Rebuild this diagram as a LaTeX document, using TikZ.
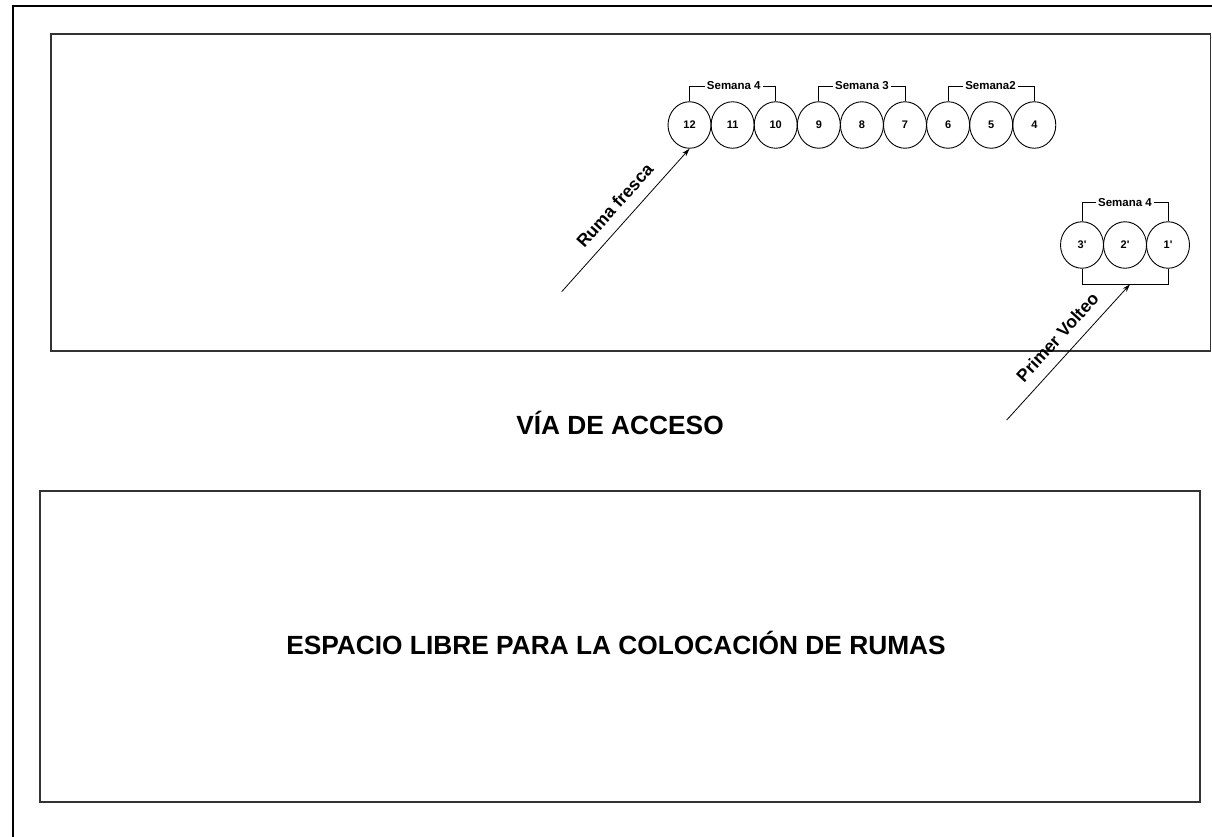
\documentclass[tikz,border=0pt]{standalone}
\usepackage{fontspec}
\setmainfont{Liberation Sans}
\usetikzlibrary{arrows.meta, positioning, calc, shapes.geometric}

\tikzset{
  ruma/.style={draw, ellipse, line width=0.9pt, minimum width=43pt, minimum height=46.5pt, inner sep=0pt, font=\fontsize{11}{12}\selectfont\bfseries},
  semana/.style={inner sep=2pt, font=\fontsize{11.5}{12}\selectfont\bfseries},
  zona/.style={draw=black!80, line width=1.3pt},
  rotulo/.style={font=\fontsize{26.3}{28}\selectfont\bfseries},
  flecha/.style={-{Stealth[length=8pt,width=5pt]}, line width=0.8pt},
  nota/.style={sloped, above=8pt, font=\fontsize{17.5}{18}\selectfont\bfseries}
}

\begin{document}
\begin{tikzpicture}[x=1pt, y=-1pt]
            \useasboundingbox (0,0) rectangle (1212,836);
            % frame
            \draw[line width=2.6pt] (13,850) |- (1230,6);
            \draw[zona] (51,34) rectangle (1210.5,351);
            \draw[zona] (40,491) rectangle (1200,802);

            % rumas en fila
            \foreach \n [count=\i from 0] in {12,11,10,9,8,7,6,5,4} {
                \node[ruma] (c\n) at (689.5+43.1*\i,125) {\n};
            }
            \node[semana] (w4) at (733.8,86) {Semana 4};
            \node[semana] (w3) at (862,86) {Semana 3};
            \node[semana] (w2) at (990.5,86) {Semana2};
            \draw[line width=0.9pt] (c12.north) |- (w4.west) (w4.east) -| (c10.north);
            \draw[line width=0.9pt] (c9.north) |- (w3.west) (w3.east) -| (c7.north);
            \draw[line width=0.9pt] (c6.north) |- (w2.west) (w2.east) -| (c4.north);

            % primer volteo
            \foreach \n [count=\i from 0] in {3,2,1} {
                \node[ruma] (p\n) at (1082+43*\i,245) {\n\textquotesingle};
            }
            \node[semana] (w4b) at (1125,202.7) {Semana 4};
            \draw[line width=0.9pt] (p3.north) |- (w4b.west) (w4b.east) -| (p1.north);
            \draw[line width=0.9pt] (p3.south) -- ++(0,16) coordinate (b3) -| (p1.south);
            \coordinate (pv) at (1130,284.3);

            % flechas
            \coordinate (rf) at (561.7,291.7);
            \draw[flecha] (rf) -- (c12.south) node[nota, pos=0.52] {Ruma fresca};
            \coordinate (pvs) at (1006.7,420);
            \draw[flecha] (pvs) -- (pv) node[nota, pos=0.52] {Primer Volteo};

            \node[rotulo] (via) at (620,423) {VÍA DE ACCESO};
            \node[rotulo] (libre) at (616,643) {ESPACIO LIBRE PARA LA COLOCACIÓN DE RUMAS};
\end{tikzpicture}
\end{document}
